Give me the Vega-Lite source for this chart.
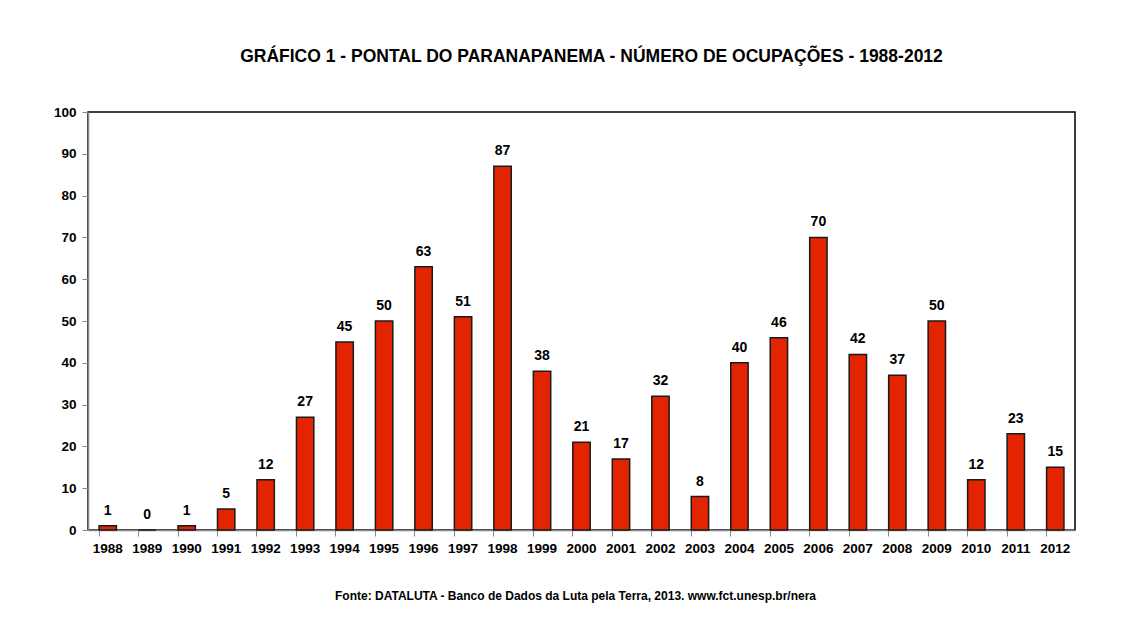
{
  "$schema": "https://vega.github.io/schema/vega-lite/v6.json",
  "width": 987,
  "height": 418,
  "autosize": {"type": "none"},
  "padding": {"left": 88, "top": 112, "right": 51, "bottom": 96},
  "background": "white",
  "title": {
    "text": "GRÁFICO 1 - PONTAL DO PARANAPANEMA - NÚMERO DE OCUPAÇÕES - 1988-2012",
    "font": "Liberation Sans",
    "fontSize": 17.5,
    "fontWeight": "bold",
    "color": "#000",
    "anchor": "middle",
    "dx": 10,
    "offset": 40
  },
  "config": {
    "view": {"stroke": "#000", "strokeWidth": 1.5},
    "font": "Liberation Sans"
  },
  "data": {
    "values": [
      {"ano": "1988", "n": 1}, {"ano": "1989", "n": 0}, {"ano": "1990", "n": 1},
      {"ano": "1991", "n": 5}, {"ano": "1992", "n": 12}, {"ano": "1993", "n": 27},
      {"ano": "1994", "n": 45}, {"ano": "1995", "n": 50}, {"ano": "1996", "n": 63},
      {"ano": "1997", "n": 51}, {"ano": "1998", "n": 87}, {"ano": "1999", "n": 38},
      {"ano": "2000", "n": 21}, {"ano": "2001", "n": 17}, {"ano": "2002", "n": 32},
      {"ano": "2003", "n": 8}, {"ano": "2004", "n": 40}, {"ano": "2005", "n": 46},
      {"ano": "2006", "n": 70}, {"ano": "2007", "n": 42}, {"ano": "2008", "n": 37},
      {"ano": "2009", "n": 50}, {"ano": "2010", "n": 12}, {"ano": "2011", "n": 23},
      {"ano": "2012", "n": 15}
    ]
  },
  "encoding": {
    "x": {
      "field": "ano",
      "type": "nominal",
      "sort": null,
      "scale": {"paddingInner": 0.56, "paddingOuter": 0.28},
      "axis": {
        "title": "Fonte: DATALUTA - Banco de Dados da Luta pela Terra, 2013. www.fct.unesp.br/nera",
        "titleFontSize": 12,
        "titleFontWeight": "bold",
        "titleColor": "#000",
        "titlePadding": 36,
        "titleX": 487,
        "labelAngle": 0,
        "labelFontSize": 13.5,
        "labelFontWeight": "bold",
        "labelColor": "#000",
        "labelPadding": 5,
        "bandPosition": 0,
        "tickSize": 6,
        "tickColor": "#888",
        "domainColor": "#888",
        "domainWidth": 1.5
      }
    },
    "y": {
      "field": "n",
      "type": "quantitative",
      "scale": {"domain": [0, 100], "nice": false},
      "axis": {
        "title": null,
        "values": [0, 10, 20, 30, 40, 50, 60, 70, 80, 90, 100],
        "grid": false,
        "labelFontSize": 13.5,
        "labelFontWeight": "bold",
        "labelColor": "#000",
        "labelPadding": 6,
        "tickSize": 6,
        "tickColor": "#888",
        "domainColor": "#888",
        "domainWidth": 1.5
      }
    }
  },
  "layer": [
    {
      "mark": {"type": "bar", "color": "#e32400", "stroke": "#1a1a1a", "strokeWidth": 1.5}
    },
    {
      "mark": {"type": "text", "baseline": "bottom", "dy": -8, "fontSize": 14, "fontWeight": "bold", "color": "#000"},
      "encoding": {"text": {"field": "n", "type": "quantitative"}}
    }
  ]
}
